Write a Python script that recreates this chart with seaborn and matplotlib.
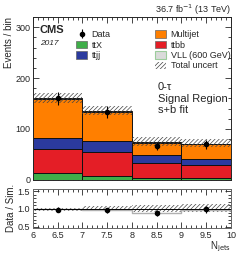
import numpy as np
import pandas as pd
import matplotlib
matplotlib.use("Agg")
import matplotlib.pyplot as plt
import seaborn as sns
from matplotlib.patches import Patch
from matplotlib.ticker import MultipleLocator

# ------------------------------
# Data
# ------------------------------
edges = [6, 7, 8, 9, 10]
centers = [6.5, 7.5, 8.5, 9.5]
processes = ["ttX", "ttbb", "ttjj", "Multijet", "VLL (600 GeV)"]
ttx = [14, 8, 3, 3]
ttbb = [47, 46, 30, 26]
ttjj = [21, 22, 16, 12]
multijet = [76, 58, 24, 29]
vll = [2, 2, 1, 1]
unc_lo = [152, 128, 66, 64]
unc_hi = [170, 146, 84, 80]
data = [160, 133, 67, 70]
data_err = [12, 11.5, 8, 8.5]
ratio = [0.98, 0.97, 0.88, 0.99]
ratio_err = [0.07, 0.07, 0.09, 0.10]
ratio_lo = [0.94, 0.94, 0.91, 0.91]
ratio_hi = [1.04, 1.07, 1.11, 1.13]
ratio_alt = [1.0, 0.98, 0.88, 0.96]

colors = {"ttX": "#3fae49", "ttbb": "#e41e26", "ttjj": "#2b3a9e",
          "Multijet": "#ff7f00", "VLL (600 GeV)": "#dadada"}

sns.set_style("ticks")
plt.rcParams["font.family"] = ["Liberation Sans", "DejaVu Sans"]
plt.rcParams["hatch.linewidth"] = 0.5
plt.rcParams["hatch.color"] = "#444444"

rows = []
for name, vals in zip(processes, [ttx, ttbb, ttjj, multijet, vll]):
    for c, v in zip(centers, vals):
        rows.append({"njets": c, "w": v, "process": name})
df = pd.DataFrame(rows)

fig = plt.figure(figsize=(2.41, 2.57), dpi=100)
ax = fig.add_axes([0.137, 0.300, 0.821, 0.634])
rax = fig.add_axes([0.137, 0.113, 0.821, 0.152])

# stacked histogram (seaborn puts the first hue level on top)
sns.histplot(data=df, x="njets", weights="w", hue="process",
             hue_order=processes[::-1], palette=colors, bins=edges,
             multiple="stack", element="bars", alpha=1,
             edgecolor="#111111", linewidth=0.7, legend=False, ax=ax)

ax.fill_between(edges, unc_lo + [unc_lo[-1]], unc_hi + [unc_hi[-1]], step="post",
                facecolor="none", edgecolor="#444444", hatch="////////", linewidth=0)
data_h = ax.errorbar(centers, data, yerr=data_err, fmt="o", color="black",
                     markersize=3, elinewidth=0.8, capsize=0)

ax.set_xlim(6, 10)
ax.set_ylim(0, 320)
ax.set_xlabel("")
ax.set_ylabel("Events / bin", fontsize=7, loc="top", labelpad=1)
ax.yaxis.set_major_locator(MultipleLocator(100))
ax.yaxis.set_minor_locator(MultipleLocator(20))
ax.xaxis.set_major_locator(MultipleLocator(0.5))
ax.xaxis.set_minor_locator(MultipleLocator(0.1))
ax.set_xticklabels([])

# ratio panel
rax.fill_between(edges, ratio_lo + [ratio_lo[-1]], ratio_hi + [ratio_hi[-1]], step="post",
                 facecolor="none", edgecolor="#444444", hatch="////////", linewidth=0)
rax.step(edges, ratio_alt + [ratio_alt[-1]], where="post", color="#b0b0b0", lw=1.0)
rax.axhline(1.0, color="black", lw=0.7)
rax.errorbar(centers, ratio, yerr=ratio_err, fmt="o", color="black",
             markersize=3, elinewidth=0.8, capsize=0)
rax.set_xlim(6, 10)
rax.set_ylim(0.47, 1.56)
rax.set_ylabel("Data / Sim.", fontsize=7, labelpad=1)
rax.set_xlabel("N$_{\\rm jets}$", fontsize=7, loc="right", labelpad=0)
rax.xaxis.set_minor_locator(MultipleLocator(0.1))
rax.yaxis.set_major_locator(MultipleLocator(0.5))
rax.yaxis.set_minor_locator(MultipleLocator(0.1))
rax.set_xticks(np.arange(6, 10.01, 0.5))
rax.set_xticklabels(["6", "6.5", "7", "7.5", "8", "8.5", "9", "9.5", "10"])

for a in (ax, rax):
    a.tick_params(which="both", direction="in", top=True, right=True,
                  labelsize=6.5, pad=2, width=0.6)
    a.tick_params(which="major", length=4)
    a.tick_params(which="minor", length=2)
    for s in a.spines.values():
        s.set_linewidth(0.7)
for s in rax.spines.values():
    s.set_color("#666666")

# legends
h_left = [data_h,
          Patch(facecolor=colors["ttX"], edgecolor="#666666", lw=0.5),
          Patch(facecolor=colors["ttjj"], edgecolor="#666666", lw=0.5)]
leg1 = ax.legend(h_left, ["Data", "ttX", "ttjj"], loc="upper left",
                 bbox_to_anchor=(0.20, 0.94), frameon=False, fontsize=6.5,
                 handlelength=1.2, handleheight=0.9, handletextpad=0.5,
                 labelspacing=0.15, borderaxespad=0)
ax.add_artist(leg1)
h_right = [Patch(facecolor=colors["Multijet"], edgecolor="#666666", lw=0.5),
           Patch(facecolor=colors["ttbb"], edgecolor="#666666", lw=0.5),
           Patch(facecolor=colors["VLL (600 GeV)"], edgecolor="#9ccc9c", lw=0.8),
           Patch(facecolor="white", edgecolor="#444444", hatch="////////", lw=0)]
ax.legend(h_right, ["Multijet", "ttbb", "VLL (600 GeV)", "Total uncert"],
          loc="upper left", bbox_to_anchor=(0.60, 0.94), frameon=False,
          fontsize=6.5, handlelength=1.2, handleheight=0.9, handletextpad=0.5,
          labelspacing=0.15, borderaxespad=0)

ax.text(0.035, 0.95, "CMS", transform=ax.transAxes, fontsize=8,
        fontweight="bold", va="top")
ax.text(0.035, 0.86, "2017", transform=ax.transAxes, fontsize=6,
        style="italic", va="top")
ax.text(0.63, 0.60, "0-\u03c4\nSignal Region\ns+b fit", transform=ax.transAxes,
        fontsize=8, va="top", linespacing=1.2)
ax.set_title("36.7 fb$^{-1}$ (13 TeV)", loc="right", fontsize=6.5, pad=2)

fig.savefig("out.png", dpi=100)
